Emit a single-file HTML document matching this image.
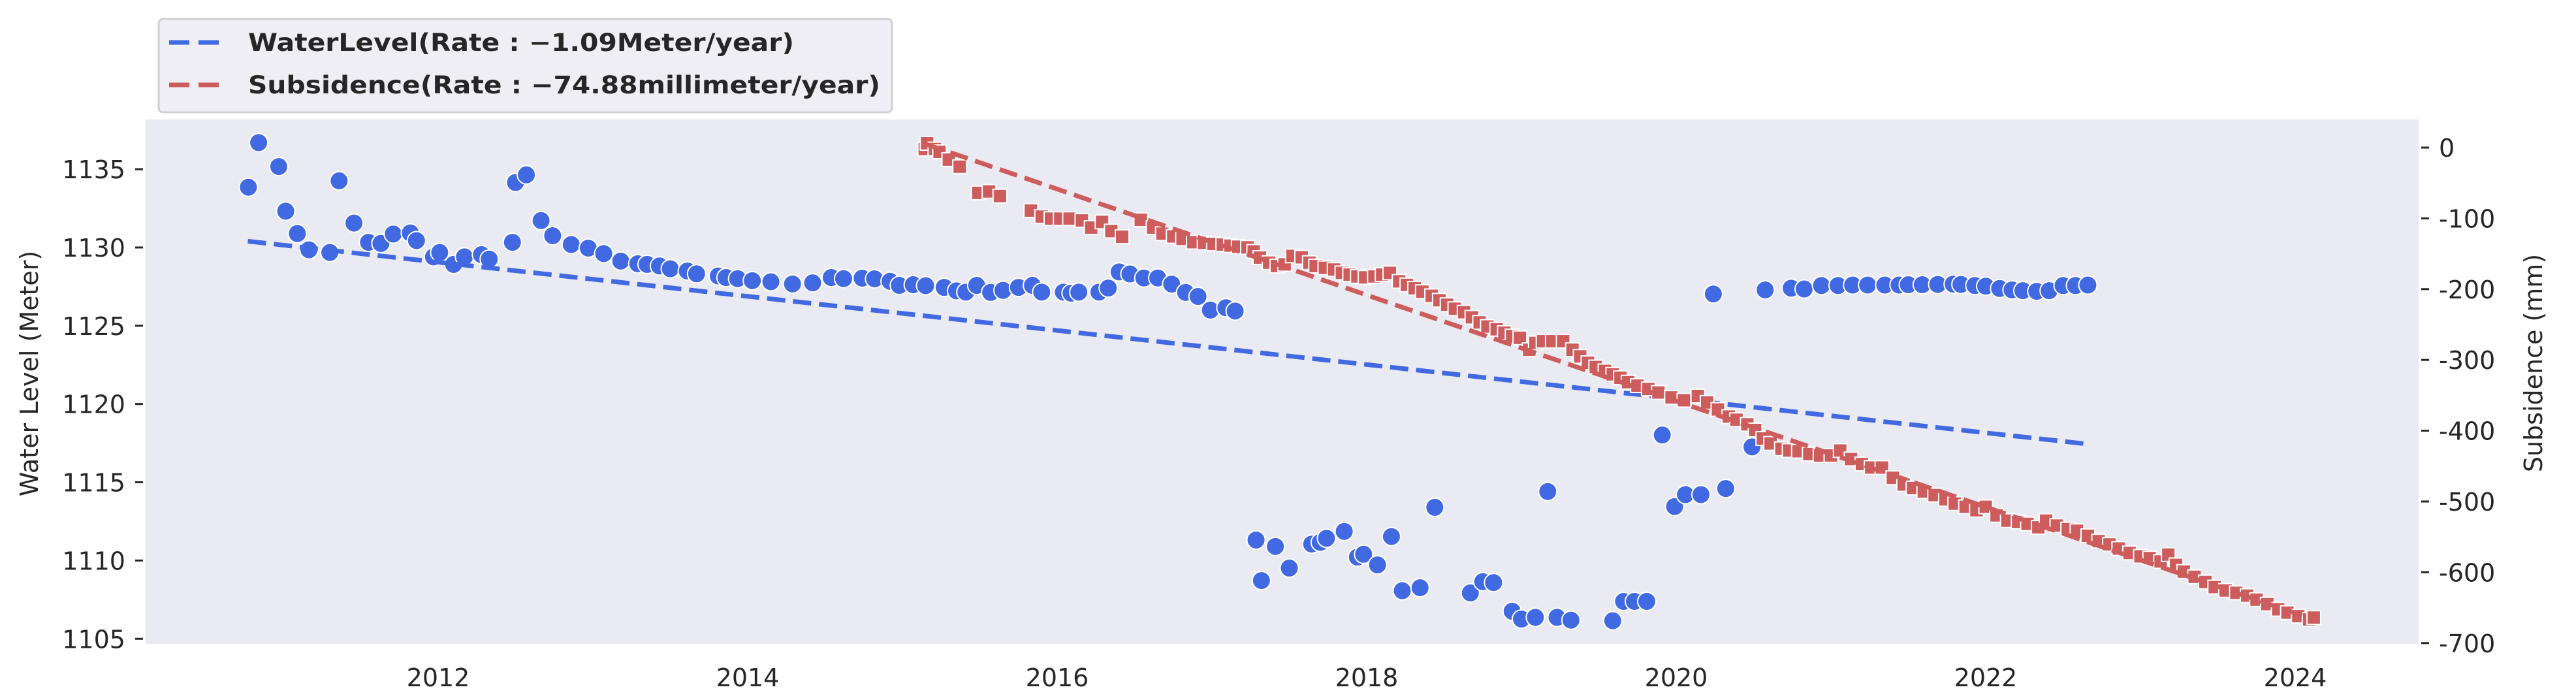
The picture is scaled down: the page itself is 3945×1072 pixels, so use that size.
<!DOCTYPE html>
<html><head><meta charset="utf-8"><style>
html,body{margin:0;padding:0;background:#fff;}
svg{display:block;font-family:"DejaVu Sans","Liberation Sans",sans-serif;}
</style></head><body>
<svg id="chart" width="3945" height="1072" viewBox="0 0 3945 1072" xmlns="http://www.w3.org/2000/svg">
<rect x="223" y="183" width="3481" height="803" fill="#eaeaf2"/>
<g id="xaxis"></g>
<g id="yleft"></g>
<g id="yright"></g>
<g id="marks"></g>
<text transform="translate(58,572) rotate(-90)" text-anchor="middle" font-size="38" fill="#262626">Water Level (Meter)</text>
<text transform="translate(3893,556) rotate(-90)" text-anchor="middle" font-size="38" fill="#262626">Subsidence (mm)</text>
<g>
<rect x="243" y="29" width="1123" height="143" rx="7" fill="#eeeef4" stroke="#cfcfd4" stroke-width="3"/>
<line x1="259" y1="65" x2="335" y2="65" stroke="#4169e1" stroke-width="7" stroke-dasharray="31 14"/>
<text x="380" y="78" font-size="37" font-weight="bold" fill="#262626" textLength="836" lengthAdjust="spacingAndGlyphs">WaterLevel(Rate : −1.09Meter/year)</text>
<line x1="259" y1="130" x2="335" y2="130" stroke="#cd5c5c" stroke-width="7" stroke-dasharray="31 14"/>
<text x="380" y="143" font-size="37" font-weight="bold" fill="#262626" textLength="968" lengthAdjust="spacingAndGlyphs">Subsidence(Rate : −74.88millimeter/year)</text>
</g>
</svg>
<script>
const xTicks = [2012, 2014, 2016, 2018, 2020, 2022, 2024];
const leftTicks = [1105, 1110, 1115, 1120, 1125, 1130, 1135];
const rightTicks = [0, -100, -200, -300, -400, -500, -600, -700];
const waterYears = [2010.774,2010.84,2010.97,2011.015,2011.09,2011.165,2011.30,2011.36,2011.456,2011.55,2011.63,2011.71,2011.82,2011.86,2011.97,2012.01,2012.10,2012.17,2012.28,2012.33,2012.48,2012.50,2012.57,2012.665,2012.74,2012.86,2012.97,2013.07,2013.18,2013.29,2013.35,2013.43,2013.50,2013.61,2013.67,2013.81,2013.86,2013.935,2014.03,2014.15,2014.29,2014.42,2014.54,2014.62,
2014.74,2014.82,2014.92,2014.98,2015.07,2015.15,2015.27,2015.35,2015.41,2015.48,2015.57,2015.65,2015.75,2015.84,2015.90,2016.04,2016.09,2016.14,2016.27,2016.33,2016.40,2016.47,2016.56,2016.65,2016.74,2016.83,2016.91,2016.99,2017.09,2017.15,
2017.285,2017.32,2017.41,2017.50,2017.645,2017.70,2017.74,2017.855,2017.94,2017.98,2018.07,2018.16,2018.23,2018.345,2018.44,2018.67,2018.75,2018.82,2018.94,2019.00,2019.09,2019.17,2019.23,2019.32,2019.59,2019.66,2019.73,2019.81,2019.91,2019.99,2020.06,2020.16,2020.32,2020.24,2020.49,2020.575,
2020.743,2020.827,2020.939,2021.046,2021.14,2021.237,2021.348,2021.44,2021.50,2021.59,2021.69,2021.79,2021.84,2021.93,2022.00,2022.09,2022.17,2022.24,2022.33,2022.41,2022.50,2022.58,2022.66];
const waterLevels = [1133.85,1136.70,1135.17,1132.32,1130.89,1129.85,1129.68,1134.26,1131.56,1130.33,1130.26,1130.86,1130.93,1130.44,1129.40,1129.68,1128.92,1129.40,1129.54,1129.26,1130.33,1134.15,1134.64,1131.72,1130.75,1130.19,1129.96,1129.61,1129.13,1128.96,1128.92,1128.82,1128.64,1128.50,1128.32,1128.18,1128.08,1128.01,1127.88,1127.81,1127.67,1127.74,1128.08,1128.01,
1128.04,1128.0,1127.84,1127.58,1127.62,1127.56,1127.45,1127.23,1127.15,1127.58,1127.13,1127.26,1127.45,1127.58,1127.15,1127.15,1127.08,1127.15,1127.15,1127.41,1128.44,1128.31,1128.05,1128.05,1127.66,1127.13,1126.87,1126.0,1126.15,1125.94,
1111.31,1108.72,1110.90,1109.52,1111.05,1111.16,1111.42,1111.86,1110.22,1110.40,1109.72,1111.53,1108.07,1108.26,1113.40,1107.93,1108.65,1108.59,1106.76,1106.26,1106.37,1114.41,1106.37,1106.19,1106.15,1107.39,1107.39,1107.39,1118.02,1113.45,1114.21,1114.21,1114.6,1127.03,1117.26,1127.29,
1127.40,1127.35,1127.57,1127.57,1127.6,1127.6,1127.6,1127.6,1127.62,1127.62,1127.64,1127.66,1127.64,1127.57,1127.53,1127.38,1127.29,1127.24,1127.2,1127.24,1127.57,1127.57,1127.6];
const subsYears = [2015.144,2015.16,2015.21,2015.24,2015.30,2015.37,2015.49,2015.56,2015.63,2015.83,2015.90,2015.96,2016.02,2016.08,2016.16,2016.22,2016.29,2016.35,2016.42,2016.54,2016.62,2016.68,2016.75,2016.81,2016.88,2016.95,2017.01,2017.07,2017.12,2017.17,2017.23,2017.27,2017.31,2017.37,2017.42,2017.47,2017.52,2017.58,2017.63,2017.67,2017.73,2017.79,2017.84,2017.89,2017.94,2017.99,2018.05,2018.10,2018.15,2018.21,2018.26,2018.31,2018.36,2018.42,2018.47,2018.52,2018.57,2018.63,2018.68,2018.73,2018.78,2018.84,2018.89,2018.94,2018.99,2019.05,2019.09,2019.14,2019.20,2019.27,2019.33,2019.38,2019.43,2019.48,2019.54,2019.59,2019.64,2019.69,2019.75,2019.82,2019.885,2019.97,2020.05,2020.14,2020.20,2020.27,2020.34,2020.39,2020.46,2020.51,2020.56,2020.61,2020.68,2020.73,2020.79,2020.86,2020.93,2021.00,2021.06,2021.13,2021.20,2021.26,2021.33,2021.40,2021.47,2021.53,2021.60,2021.67,2021.74,2021.80,2021.87,2021.94,2022.00,2022.07,2022.14,2022.21,2022.27,2022.34,2022.39,2022.46,2022.53,2022.59,2022.66,2022.73,2022.80,2022.86,2022.93,2023.00,2023.06,2023.13,2023.18,2023.23,2023.28,2023.35,2023.42,2023.48,2023.55,2023.62,2023.69,2023.75,2023.82,2023.89,2023.95,2024.02,2024.09,2024.12];
const subsValues = [-2,6,-2,-6,-17,-27,-64,-62,-68.5,-89,-97.5,-100.4,-100.4,-100.4,-103,-113,-105,-118,-126,-102,-113,-121.6,-125.5,-129,-133.7,-134.6,-136,-137,-138.5,-140,-141,-146.7,-155.4,-162.6,-167.4,-165,-153,-155,-162.6,-167.4,-169.9,-172.3,-177,-179.5,-182,-183.4,-182,-179.5,-177,-189,-194,-198.8,-203.6,-209.4,-215.7,-222,-227.7,-232.6,-239.8,-247,-252.8,-256.7,-261.5,-266.3,-268.7,-285.6,-276,-273.6,-273.6,-273.6,-285.6,-295,-304,-310,-315.5,-320.4,-325.2,-331.4,-336.3,-341,-346,-353,-357,-351,-360,-370,-380,-384.5,-391,-399,-411,-418,-425.5,-428,-429,-433,-435,-435,-428,-440,-447,-452,-452,-466.5,-476,-481,-486,-491,-497,-503,-507.5,-512.4,-507.5,-519.6,-527,-529,-531.6,-536.5,-527,-534,-539,-541.3,-548.5,-556,-560.6,-566.4,-572.7,-577.5,-580,-584.7,-575,-589.5,-599,-606.4,-613.7,-620.9,-625.7,-629,-633,-638.7,-645,-652.3,-657,-662,-666.7,-664];
const waterTrendYears = [2010.77, 2022.66];
const waterTrendValues = [1130.4, 1117.44];
const subsTrendYears = [2015.15, 2024.1];
const subsTrendValues = [5, -665];

const NS = 'http://www.w3.org/2000/svg';
function xS(y){ return 671 + (y - 2012) * 237; }
function yL(v){ return 379 + (1130 - v) * 23.97; }
function yR(v){ return 226 - v * 1.084; }
function mk(tag, attrs, parent){ const e = document.createElementNS(NS, tag); for (const k in attrs) e.setAttribute(k, attrs[k]); parent.appendChild(e); return e; }

const xa = document.getElementById('xaxis');
xTicks.forEach(t => {
  const e = mk('text', {x: xS(t), y: 1051, 'text-anchor': 'middle', 'font-size': 38, fill: '#262626'}, xa);
  
  
  e.textContent = t;
});
const yl = document.getElementById('yleft');
leftTicks.forEach(t => {
  const y = yL(t);
  const l = mk('line', {x1: 207, x2: 219, y1: y, y2: y, stroke: '#262626', 'stroke-width': 3}, yl);
  
  
  const e = mk('text', {x: 192, y: y + 14, 'text-anchor': 'end', 'font-size': 38, fill: '#262626'}, yl);
  
  
  e.textContent = t;
});
const yr = document.getElementById('yright');
rightTicks.forEach(t => {
  const y = yR(t);
  const l = mk('line', {x1: 3708, x2: 3720, y1: y, y2: y, stroke: '#262626', 'stroke-width': 3}, yr);
  
  
  const e = mk('text', {x: 3735, y: y + 14, 'text-anchor': 'start', 'font-size': 38, fill: '#262626'}, yr);
  
  
  e.textContent = t;
});

const g = document.getElementById('marks');
waterYears.forEach((yv, i) => {
  const c = mk('circle', {cx: xS(yv), cy: yL(waterLevels[i]), r: 14, fill: '#4169e1', stroke: '#fff', 'stroke-width': 2}, g);
  
  
});
const wl = mk('line', {x1: xS(waterTrendYears[0]), y1: yL(waterTrendValues[0]), x2: xS(waterTrendYears[1]), y2: yL(waterTrendValues[1]), stroke: '#4169e1', 'stroke-width': 7, 'stroke-dasharray': '28 12'}, g);


subsYears.forEach((yv, i) => {
  const s = mk('rect', {x: xS(yv) - 10.5, y: yR(subsValues[i]) - 10.5, width: 21, height: 21, fill: '#cd5c5c', stroke: '#fff', 'stroke-width': 2}, g);
  
  
});
const sl = mk('line', {x1: xS(subsTrendYears[0]), y1: yR(subsTrendValues[0]), x2: xS(subsTrendYears[1]), y2: yR(subsTrendValues[1]), stroke: '#cd5c5c', 'stroke-width': 7, 'stroke-dasharray': '28 12'}, g);


</script>
</body></html>
